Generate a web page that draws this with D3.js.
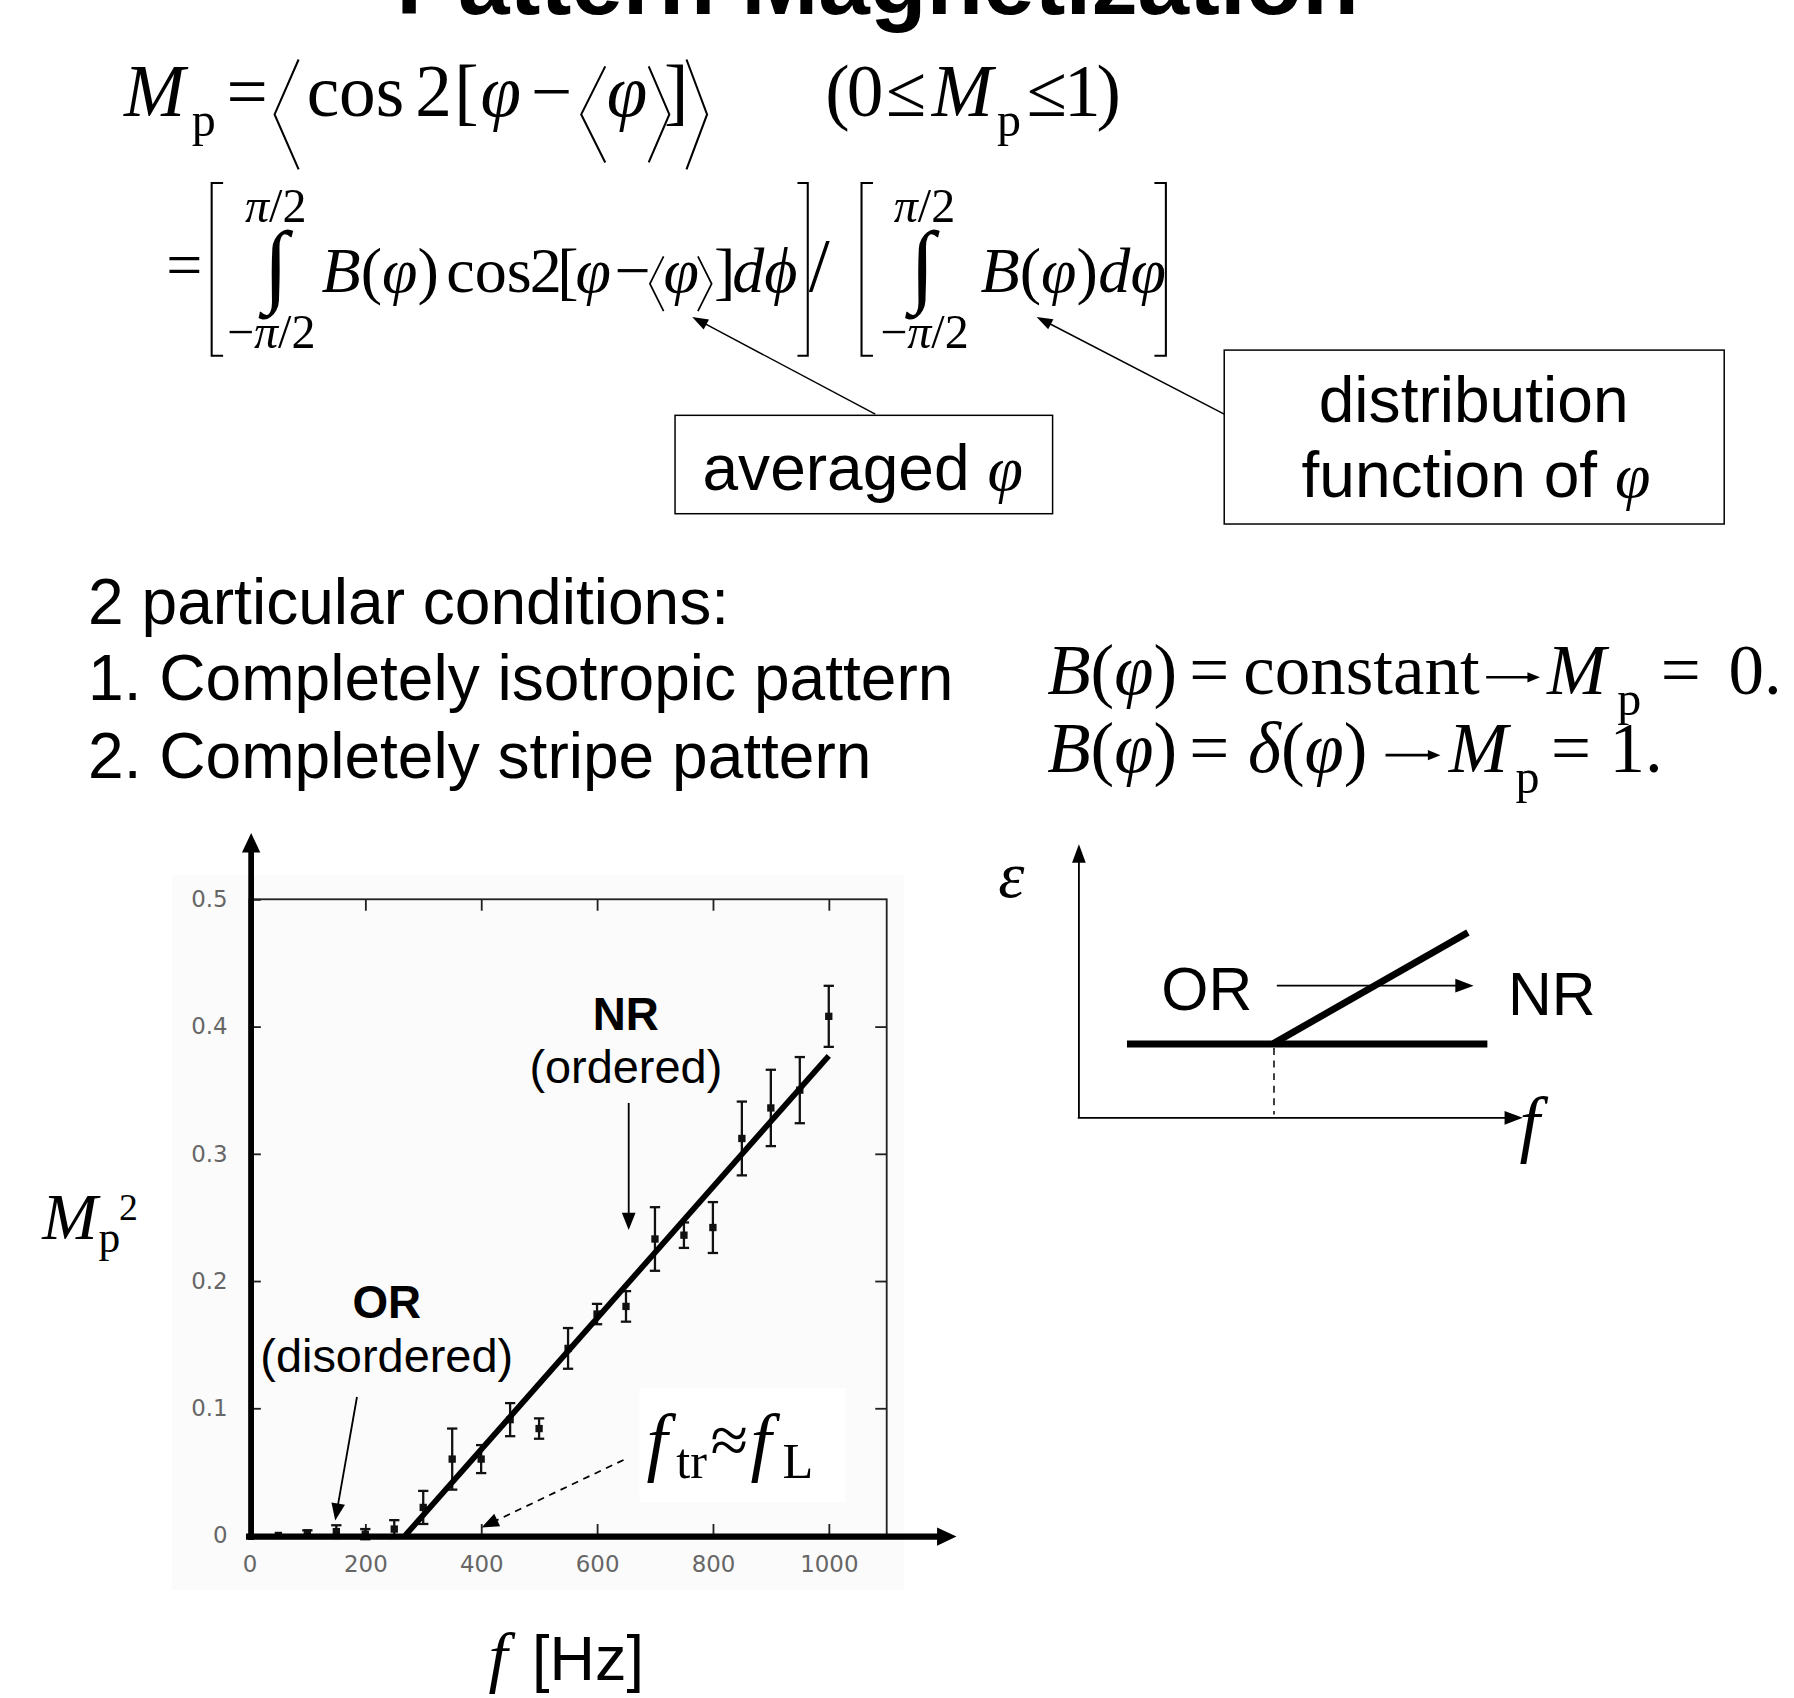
<!DOCTYPE html>
<html>
<head>
<meta charset="utf-8">
<script src="https://cdn.jsdelivr.net/npm/d3@7"></script>
<style>
  html, body { margin: 0; padding: 0; background: #fff; }
  svg { display: block; }
</style>
</head>
<body>
<svg id="slide" width="1794" height="1698"></svg>
<script>
// Mp^2 vs drive frequency
const freqHz = [50, 100, 150, 200, 250, 300, 350, 400, 450, 500, 550, 600, 650, 700, 750, 800, 850, 900, 950, 1000];
const mp2 = [0.000, 0.002, 0.003, 0.001, 0.005, 0.022, 0.060, 0.060, 0.091, 0.084, 0.147, 0.174, 0.180, 0.233, 0.236, 0.242, 0.312, 0.336, 0.350, 0.408];
const mp2Err = [0.000, 0.002, 0.005, 0.004, 0.007, 0.013, 0.024, 0.011, 0.013, 0.008, 0.016, 0.008, 0.012, 0.025, 0.010, 0.020, 0.029, 0.030, 0.026, 0.024];

// linear fit drawn over the points (zero below f_tr)
const fitFreq = [269, 1000];
const fitMp2 = [0, 0.377];

const xTicks = [0, 200, 400, 600, 800, 1000];
const yTicks = [0, 0.1, 0.2, 0.3, 0.4, 0.5];

const SANS = '"Liberation Sans", Arial, Helvetica, sans-serif';
const SERIF = '"Liberation Serif", "Times New Roman", serif';

// layout is done in the 1568-wide space of the slide, then scaled up
const svg = d3.select('#slide');
const root = svg.append('g').attr('transform', `scale(${1794 / 1568})`);

function txt(g, x, y, s, o = {}) {
  return g.append('text')
    .attr('x', x).attr('y', y)
    .attr('text-anchor', o.anchor || 'middle')
    .style('font-family', o.serif ? SERIF : SANS)
    .style('font-size', (o.size || 55) + 'px')
    .style('font-style', o.it ? 'italic' : 'normal')
    .style('font-weight', o.bold ? 'bold' : 'normal')
    .attr('fill', o.fill || '#000')
    .text(s);
}

// parts: [text, flags]  flags: i = italic, a = sans
function rich(g, x, y, parts, o = {}) {
  const t = g.append('text')
    .attr('x', x).attr('y', y)
    .attr('text-anchor', o.anchor || 'start')
    .style('font-family', SERIF)
    .style('font-size', (o.size || 56) + 'px')
    .attr('fill', '#000');
  for (const [s, f = ''] of parts) {
    const sp = t.append('tspan').text(s);
    if (f.includes('i')) sp.style('font-style', 'italic');
    if (f.includes('a')) sp.style('font-family', SANS);
  }
  return t;
}

function arrow(g, x1, y1, x2, y2, o = {}) {
  const len = o.head || 14, hw = o.hw || 5.5;
  const a = Math.atan2(y2 - y1, x2 - x1);
  const bx = x2 - len * Math.cos(a), by = y2 - len * Math.sin(a);
  g.append('line')
    .attr('x1', x1).attr('y1', y1).attr('x2', bx + 2 * Math.cos(a)).attr('y2', by + 2 * Math.sin(a))
    .attr('stroke', '#000').attr('stroke-width', o.w || 1.5)
    .attr('stroke-dasharray', o.dash || null);
  const px = -Math.sin(a) * hw, py = Math.cos(a) * hw;
  g.append('path')
    .attr('d', `M${x2},${y2}L${bx + px},${by + py}L${bx - px},${by - py}Z`)
    .attr('fill', '#000');
}

function poly(g, pts, w = 1.8) {
  g.append('path')
    .attr('d', d3.line()(pts))
    .attr('fill', 'none').attr('stroke', '#000').attr('stroke-width', w)
    .attr('stroke-linejoin', 'miter');
}

// ---------- title (cut off at the top edge) ----------
txt(root, 767, 12, 'Pattern Magnetization', { size: 81, bold: true });

// ---------- definition of Mp ----------
const eq = root.append('g');
const L1 = 101, S1 = 64;
txt(eq, 135, L1, 'M', { serif: true, it: true, size: S1 });
txt(eq, 178, L1 + 18, 'p', { serif: true, size: 42 });
txt(eq, 216, L1, '=', { serif: true, size: S1 });
poly(eq, [[261, 52], [240, 100], [261, 148]]);
txt(eq, 268, L1, 'cos', { serif: true, size: S1, anchor: 'start' });
txt(eq, 363, L1, '2', { serif: true, size: S1, anchor: 'start' });
txt(eq, 397, L1, '[', { serif: true, size: S1, anchor: 'start' });
txt(eq, 420, L1, 'φ', { serif: true, it: true, size: S1, anchor: 'start' });
txt(eq, 482, L1, '−', { serif: true, size: S1 });
poly(eq, [[529, 58], [508, 100], [529, 142]]);
txt(eq, 548, L1, 'φ', { serif: true, it: true, size: S1 });
poly(eq, [[567, 58], [585, 100], [567, 142]]);
txt(eq, 591, L1, ']', { serif: true, size: S1 });
poly(eq, [[600, 52], [618, 100], [600, 148]]);

txt(eq, 732, L1, '(', { serif: true, size: S1 });
txt(eq, 756, L1, '0', { serif: true, size: S1 });
txt(eq, 792, L1, '≤', { serif: true, size: S1 });
txt(eq, 841, L1, 'M', { serif: true, it: true, size: S1 });
txt(eq, 882, L1 + 18, 'p', { serif: true, size: 42 });
txt(eq, 915, L1, '≤', { serif: true, size: S1 });
txt(eq, 946, L1, '1', { serif: true, size: S1 });
txt(eq, 969, L1, ')', { serif: true, size: S1 });

// second line: ratio of integrals
const L2 = 255, S2 = 56;
txt(eq, 161, L2 - 5, '=', { serif: true, size: S2 });
poly(eq, [[195, 160], [185, 160], [185, 311], [195, 311]]);
rich(eq, 241, 194, [['π', 'i'], ['/2']], { size: 42, anchor: 'middle' });
txt(eq, 241, 258, '∫', { serif: true, size: 80 });
rich(eq, 237, 304, [['−'], ['π', 'i'], ['/2']], { size: 42, anchor: 'middle' });
rich(eq, 281, L2, [['B', 'i'], ['('], ['φ', 'i'], [')']], { size: S2 });
rich(eq, 390, L2, [['cos']], { size: S2 });
rich(eq, 463, L2, [['2']], { size: S2 });
rich(eq, 487, L2, [['[']], { size: S2 });
rich(eq, 503, L2, [['φ', 'i']], { size: S2 });
rich(eq, 537, L2, [['−']], { size: S2 });
poly(eq, [[580, 224], [568, 248], [580, 272]], 1.5);
rich(eq, 580, L2, [['φ', 'i']], { size: S2 });
poly(eq, [[610, 224], [622, 248], [610, 272]], 1.5);
rich(eq, 624, L2, [[']']], { size: S2 });
rich(eq, 640, L2, [['d', 'i'], ['ϕ', 'i']], { size: S2 });
poly(eq, [[697, 160], [706, 160], [706, 311], [697, 311]]);
txt(eq, 716, L2 - 1, '/', { serif: true, size: 66 });
poly(eq, [[763, 160], [753, 160], [753, 311], [763, 311]]);
rich(eq, 808, 194, [['π', 'i'], ['/2']], { size: 42, anchor: 'middle' });
txt(eq, 806, 258, '∫', { serif: true, size: 80 });
rich(eq, 808, 304, [['−'], ['π', 'i'], ['/2']], { size: 42, anchor: 'middle' });
rich(eq, 857, L2, [['B', 'i'], ['('], ['φ', 'i'], [')']], { size: S2 });
rich(eq, 960, L2, [['d', 'i'], ['φ', 'i']], { size: S2 });
poly(eq, [[1009, 160], [1019, 160], [1019, 311], [1009, 311]]);

// callout boxes
const call = root.append('g');
call.append('rect').attr('x', 590).attr('y', 363).attr('width', 330).attr('height', 86)
  .attr('fill', '#fff').attr('stroke', '#000').attr('stroke-width', 1.3);
rich(call, 614, 428, [['averaged ', 'a'], ['φ', 'i']], { size: 56 });
call.append('rect').attr('x', 1070).attr('y', 306).attr('width', 437).attr('height', 152)
  .attr('fill', '#fff').attr('stroke', '#000').attr('stroke-width', 1.3);
txt(call, 1288, 369, 'distribution', { size: 56 });
rich(call, 1290, 434, [['function of ', 'a'], ['φ', 'i']], { size: 56, anchor: 'middle' });
arrow(call, 765, 362, 605, 277, { w: 1.3, head: 14, hw: 5 });
arrow(call, 1070, 362, 906, 277, { w: 1.3, head: 14, hw: 5 });

// ---------- particular conditions ----------
const cond = root.append('g');
txt(cond, 77, 545, '2 particular conditions:', { anchor: 'start', size: 56 });
txt(cond, 77, 612, '1. Completely isotropic pattern', { anchor: 'start', size: 56 });
txt(cond, 77, 680, '2. Completely stripe pattern', { anchor: 'start', size: 56 });

const LA = 607, LB = 675, S3 = 62;
rich(cond, 972, LA, [['B', 'i'], ['('], ['φ', 'i'], [')']], { size: S3, anchor: 'middle' });
txt(cond, 1057, LA, '=', { serif: true, size: S3 });
txt(cond, 1190, LA, 'constant', { serif: true, size: S3 });
arrow(cond, 1299, LA - 15, 1346, LA - 15, { w: 2.2, head: 11, hw: 4.5 });
txt(cond, 1378, LA, 'M', { serif: true, it: true, size: S3 });
txt(cond, 1424, LA + 18, 'p', { serif: true, size: 42 });
txt(cond, 1469, LA, '=', { serif: true, size: S3 });
txt(cond, 1534, LA, '0.', { serif: true, size: S3 });

rich(cond, 972, LB, [['B', 'i'], ['('], ['φ', 'i'], [')']], { size: S3, anchor: 'middle' });
txt(cond, 1057, LB, '=', { serif: true, size: S3 });
rich(cond, 1143, LB, [['δ', 'i'], ['('], ['φ', 'i'], [')']], { size: S3, anchor: 'middle' });
arrow(cond, 1211, LB - 15, 1259, LB - 15, { w: 2.2, head: 11, hw: 4.5 });
txt(cond, 1292, LB, 'M', { serif: true, it: true, size: S3 });
txt(cond, 1335, LB + 18, 'p', { serif: true, size: 42 });
txt(cond, 1373, LB, '=', { serif: true, size: S3 });
txt(cond, 1430, LB, '1.', { serif: true, size: S3 });

// ---------- measured Mp^2 plot ----------
const x = d3.scaleLinear().domain([0, 1100]).range([218, 775]);
const y = d3.scaleLinear().domain([0, 0.5]).range([1342, 786]);
const plot = root.append('g');

plot.append('rect').attr('x', 150).attr('y', 765).attr('width', 640).attr('height', 625)
  .attr('fill', '#fbfbfb');
plot.append('rect')
  .attr('x', x(0)).attr('y', y(0.5))
  .attr('width', x(1100) - x(0)).attr('height', y(0) - y(0.5))
  .attr('fill', 'none').attr('stroke', '#222').attr('stroke-width', 1.6);

const axStyle = (g) => {
  g.select('.domain').remove();
  g.selectAll('line').attr('stroke', '#222').attr('stroke-width', 1.6);
  g.selectAll('text').attr('fill', '#666')
    .style('font-family', '"DejaVu Sans", Verdana, sans-serif')
    .style('font-size', '20px');
};
plot.append('g').attr('transform', `translate(0,${y(0)})`)
  .call(d3.axisBottom(x).tickValues(xTicks).tickSize(-10).tickPadding(18).tickFormat(d3.format('d')))
  .call(axStyle);
plot.append('g').attr('transform', `translate(0,${y(0.5)})`)
  .call(d3.axisTop(x).tickValues(xTicks.slice(1)).tickSize(-10).tickFormat(''))
  .call(axStyle);
plot.append('g').attr('transform', `translate(${x(0)},0)`)
  .call(d3.axisLeft(y).tickValues(yTicks).tickSize(-10).tickPadding(19)
    .tickFormat((d) => (d === 0 ? '0' : d3.format('.1f')(d))))
  .call(axStyle);
plot.append('g').attr('transform', `translate(${x(1100)},0)`)
  .call(d3.axisRight(y).tickValues(yTicks.slice(1, -1)).tickSize(-10).tickFormat(''))
  .call(axStyle);

// error bars + square markers
const pts = freqHz.map((f, i) => ({ f, m: mp2[i], e: mp2Err[i] }));
const eb = plot.append('g').attr('stroke', '#111').attr('stroke-width', 2);
for (const d of pts.filter((p) => p.e > 0)) {
  const cx = x(d.f);
  eb.append('line').attr('x1', cx).attr('x2', cx).attr('y1', y(d.m - d.e)).attr('y2', y(d.m + d.e));
  for (const v of [d.m - d.e, d.m + d.e]) {
    eb.append('line').attr('x1', cx - 4.5).attr('x2', cx + 4.5).attr('y1', y(v)).attr('y2', y(v));
  }
}
plot.append('g').selectAll('rect')
  .data(pts)
  .join('rect')
  .attr('x', (d) => x(d.f) - 3.2).attr('y', (d) => y(d.m) - 3.2)
  .attr('width', 6.4).attr('height', 6.4)
  .attr('fill', '#111');

// fitted line
plot.append('path')
  .attr('d', d3.line().x((d) => x(d[0])).y((d) => y(d[1]))(fitFreq.map((f, i) => [f, fitMp2[i]])))
  .attr('stroke', '#000').attr('stroke-width', 5).attr('fill', 'none');

// thick overlaid axes with arrowheads
arrow(plot, x(0) - 3, y(0) + 1, 836, y(0) + 1, { w: 5.5, head: 17, hw: 8 });
arrow(plot, x(0) + 1.5, y(0) + 4, x(0) + 1.5, 728, { w: 5, head: 17, hw: 8 });

// annotations
const ann = root.append('g');
txt(ann, 547, 900, 'NR', { bold: true, size: 40 });
txt(ann, 547, 947, '(ordered)', { size: 41 });
arrow(ann, 549.5, 964, 549.5, 1075, { w: 1.6, head: 15, hw: 6 });
txt(ann, 338, 1152, 'OR', { bold: true, size: 40 });
txt(ann, 338, 1199, '(disordered)', { size: 41 });
arrow(ann, 312, 1221, 293, 1329, { w: 1.6, head: 15, hw: 6 });

ann.append('rect').attr('x', 559).attr('y', 1213).attr('width', 180).attr('height', 100).attr('fill', '#fff');
txt(ann, 565, 1282, 'f', { serif: true, it: true, size: 66, anchor: 'start' });
txt(ann, 591, 1292, 'tr', { serif: true, size: 44, anchor: 'start' });
txt(ann, 621, 1279, '≈', { serif: true, size: 60, anchor: 'start' });
txt(ann, 656, 1282, 'f', { serif: true, it: true, size: 66, anchor: 'start' });
txt(ann, 684, 1292, 'L', { serif: true, size: 44, anchor: 'start' });
arrow(ann, 545, 1276, 421, 1335, { w: 1.5, head: 15, hw: 6, dash: '6,5' });

// axis titles
txt(root, 37, 1083, 'M', { serif: true, it: true, size: 58, anchor: 'start' });
txt(root, 86, 1094, 'p', { serif: true, size: 38, anchor: 'start' });
txt(root, 104, 1066, '2', { serif: true, size: 33, anchor: 'start' });
txt(root, 427, 1468, 'f', { serif: true, it: true, size: 60, anchor: 'start' });
txt(root, 465, 1468, '[Hz]', { size: 55, anchor: 'start' });

// ---------- schematic epsilon vs f ----------
const sch = root.append('g');
arrow(sch, 943, 977, 943, 738, { w: 1.6, head: 16, hw: 6 });
arrow(sch, 942, 977, 1331, 977, { w: 1.6, head: 16, hw: 6 });
txt(sch, 884, 784, 'ε', { serif: true, it: true, size: 58 });
txt(sch, 1337, 1003, 'f', { serif: true, it: true, size: 64 });
sch.append('line').attr('x1', 985).attr('x2', 1300).attr('y1', 912.5).attr('y2', 912.5)
  .attr('stroke', '#000').attr('stroke-width', 6);
sch.append('line').attr('x1', 1113).attr('y1', 912).attr('x2', 1283).attr('y2', 815)
  .attr('stroke', '#000').attr('stroke-width', 6);
sch.append('line').attr('x1', 1113.5).attr('x2', 1113.5).attr('y1', 916).attr('y2', 974)
  .attr('stroke', '#000').attr('stroke-width', 1.3).attr('stroke-dasharray', '6,5');
txt(sch, 1015, 883, 'OR', { size: 53, anchor: 'start' });
txt(sch, 1318, 887, 'NR', { size: 53, anchor: 'start' });
arrow(sch, 1116, 861.5, 1288, 861.5, { w: 1.6, head: 16, hw: 6 });
</script>
</body>
</html>
